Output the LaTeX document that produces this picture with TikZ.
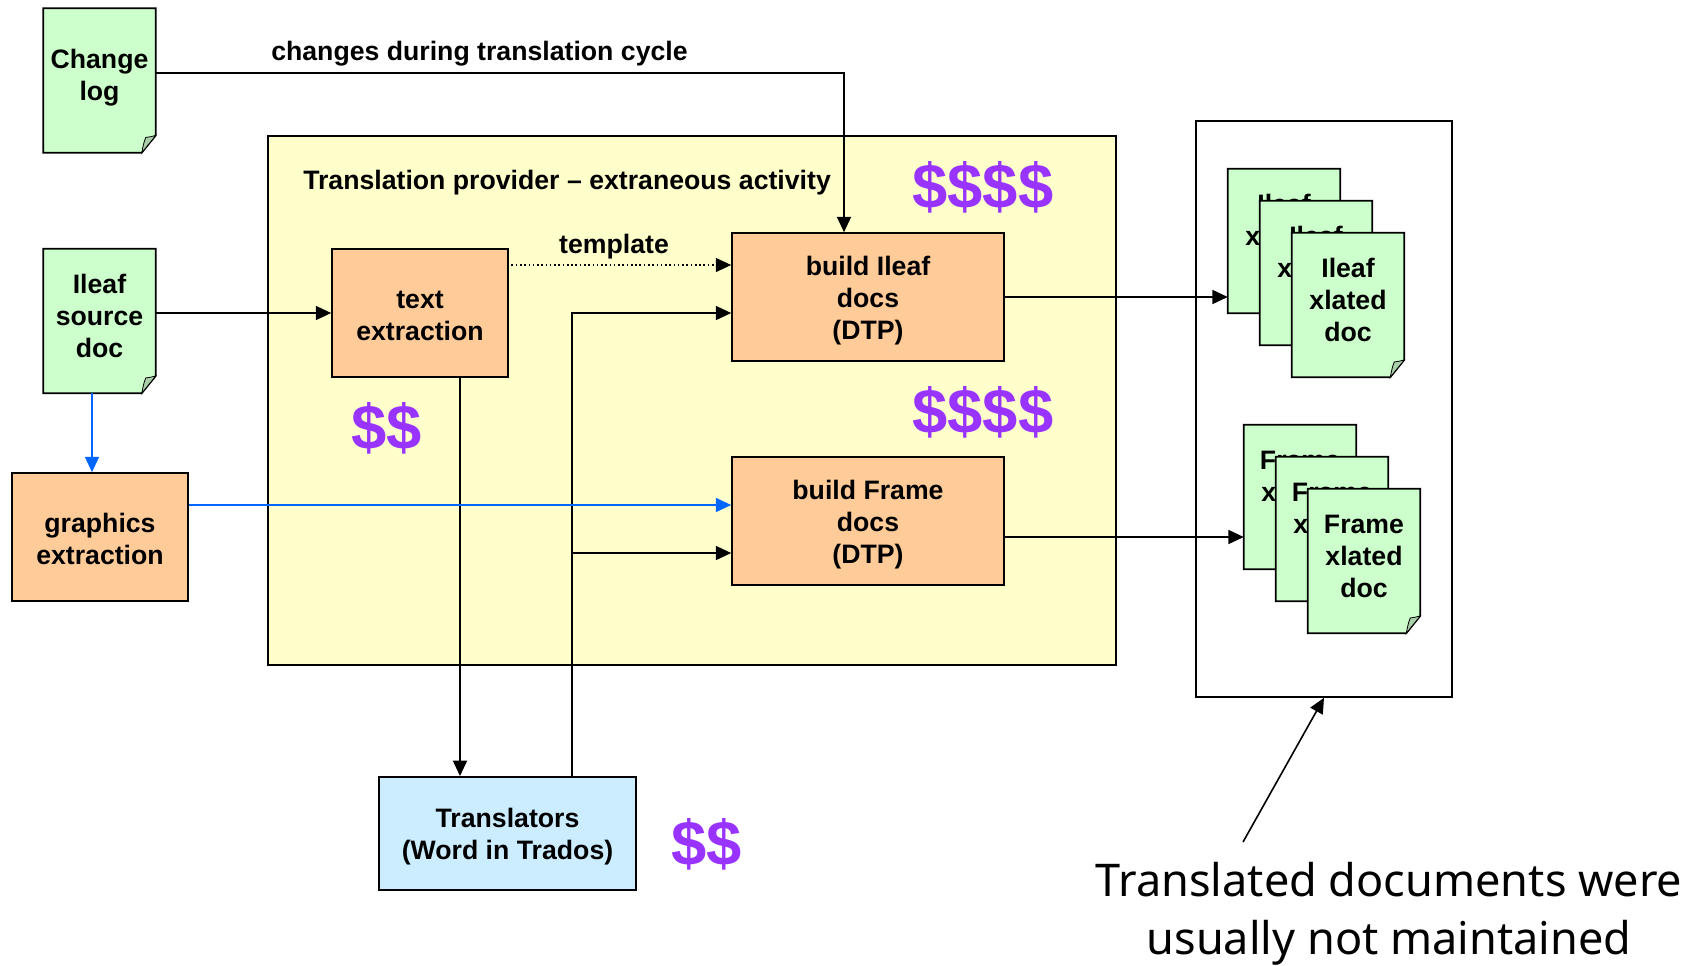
\documentclass[tikz,border=0pt]{standalone}
\usepackage{fontspec}
\setmainfont{Liberation Sans}
\newfontfamily\notefont{Noto Sans}
\usetikzlibrary{arrows.meta, positioning}

\definecolor{docgreen}{HTML}{CCFFCC}
\definecolor{procorange}{HTML}{FFCC99}
\definecolor{provyellow}{HTML}{FFFFCC}
\definecolor{transblue}{HTML}{CCECFF}
\definecolor{costpurple}{HTML}{9933FF}
\definecolor{gfxblue}{HTML}{0066FF}
\definecolor{foldgreen}{HTML}{A9CFA9}

\tikzset{
  lbl/.style={font=\fontsize{20pt}{24pt}\selectfont\bfseries, align=center},
  docbox/.style={minimum width=84pt, minimum height=108pt, inner sep=0pt},
  procbox/.style={draw, line width=1.2pt, fill=procorange, lbl, inner sep=0pt, minimum width=132pt, minimum height=96pt},
  buildbox/.style={procbox, minimum width=204pt},
  cost/.style={font=\fontsize{47.5pt}{47.5pt}\selectfont\bfseries, text=costpurple, inner sep=0pt},
  flow/.style={draw, line width=1.2pt, -{Triangle[length=11.5pt,width=10.5pt]}},
  gfxflow/.style={flow, draw=gfxblue, -{Triangle[length=11.5pt,width=10.5pt,fill=gfxblue]}},
}

% taller first line, pushes box text down a bit
\newcommand{\lift}[1]{\rule{0pt}{#1}}

% page with a folded corner, text sits a little above the middle
\newcommand{\docpage}[5][3.5pt]{
  \node[docbox] (#2) at (#3,#4) {};
  \draw[line width=1.2pt, fill=docgreen] (#2.north west) -- (#2.north east) -- ([yshift=13pt]#2.south east) -- ([xshift=-10.5pt]#2.south east) -- (#2.south west) -- cycle;
  \draw[line width=0.6pt, fill=foldgreen] ([xshift=-10.5pt]#2.south east) .. controls ([xshift=-9.5pt,yshift=5pt]#2.south east) and ([xshift=-9pt,yshift=8pt]#2.south east) .. ([xshift=-7.5pt,yshift=11.5pt]#2.south east) .. controls ([xshift=-5pt,yshift=12pt]#2.south east) and ([xshift=-2.5pt,yshift=12pt]#2.south east) .. ([yshift=13pt]#2.south east) -- cycle;
  \node[lbl] (#2text) at ([yshift=#1]#2.center) {#5};
}

\begin{document}
\begin{tikzpicture}[x=0.75pt, y=-0.75pt]
  \useasboundingbox (0,0) rectangle (1695,965);

  \node[draw, line width=1.2pt, fill=provyellow, inner sep=0pt, minimum width=636pt, minimum height=396.75pt] (provider) at (692,400.5) {};
  \node[draw, line width=1.2pt, fill=white, inner sep=0pt, minimum width=192pt, minimum height=432pt] (outbox) at (1324,409) {};

  \node[lbl, anchor=west, inner sep=0pt] (providertitle) at (303,183) {Translation provider – extraneous activity};
  \node[lbl, anchor=west, inner sep=0pt] (changeslbl) at (271,54) {changes during translation cycle};
  \node[lbl, inner sep=0pt] (templatelbl) at (614,247) {template};

  \docpage[2.3pt]{changelog}{99.5}{80.5}{Change\\log}
  \docpage{srcdoc}{99.5}{321}{Ileaf\\source\\doc}

  \node[procbox] (graphics) at (100,537) {\lift{17pt}graphics\\extraction};
  \node[procbox] (textext) at (420,313) {\lift{17pt}text\\extraction};
  \node[buildbox] (buildileaf) at (868,297) {\lift{20pt}build Ileaf\\docs\\(DTP)};
  \node[buildbox] (buildframe) at (868,521) {\lift{20pt}build Frame\\docs\\(DTP)};
  \node[procbox, fill=transblue, minimum width=192.75pt, minimum height=85pt] (translators) at (507.5,833.5) {\lift{18.7pt}Translators\\(Word in Trados)};

  \docpage{ileafa}{1284}{241}{Ileaf\\xlated\\doc}
  \docpage{ileafb}{1316}{273}{Ileaf\\xlated\\doc}
  \docpage{ileafc}{1348}{305}{Ileaf\\xlated\\doc}
  \docpage{framea}{1300}{497}{Frame\\xlated\\doc}
  \docpage{frameb}{1332}{529}{Frame\\xlated\\doc}
  \docpage{framec}{1364}{561}{Frame\\xlated\\doc}

  \node[cost] (costileaf) at (983,187) {\$\$\$\$};
  \node[cost] (costframe) at (983,412) {\$\$\$\$};
  \node[cost] (costtext) at (387,428) {\$\$};
  \node[cost] (costtrans) at (707,844) {\$\$};

  \node[font=\notefont\fontsize{33.8pt}{43.8pt}\selectfont, align=center, inner sep=0pt] (note) at (1389,914) {Translated documents were\\usually not maintained};
  \coordinate (notetail) at (1243,842);
  \coordinate (backline) at (572,553);

  \draw[flow] ([yshift=5.6pt]changelog.east) -| (buildileaf.north -| 844,0);
  \draw[flow] (textext.west -| srcdoc.east) -- (textext.west);
  \draw[gfxflow] (srcdoc.south -| 92,0) -- (graphics.north -| 92,0);
  \draw[flow, dotted, line width=0.8pt] ([xshift=2pt,yshift=24pt]buildileaf.west -| textext.east) -- ([yshift=24pt]buildileaf.west);
  \draw[flow] (textext.south -| 460,0) -- (translators.north -| 460,0);
  \draw[flow] (translators.north -| backline) |- ([yshift=-12pt]buildileaf.west);
  \draw[flow] (backline) -- ([yshift=-24pt]buildframe.west);
  \draw[gfxflow] ([yshift=12pt]buildframe.west -| graphics.east) -- ([yshift=12pt]buildframe.west);
  \draw[flow] (buildileaf.east) -- (ileafa.west |- buildileaf.east);
  \draw[flow] ([yshift=-12pt]buildframe.east) -- ([yshift=-12pt]framea.west |- buildframe.east);
  \draw[flow] (notetail) -- (outbox.south);
\end{tikzpicture}
\end{document}
